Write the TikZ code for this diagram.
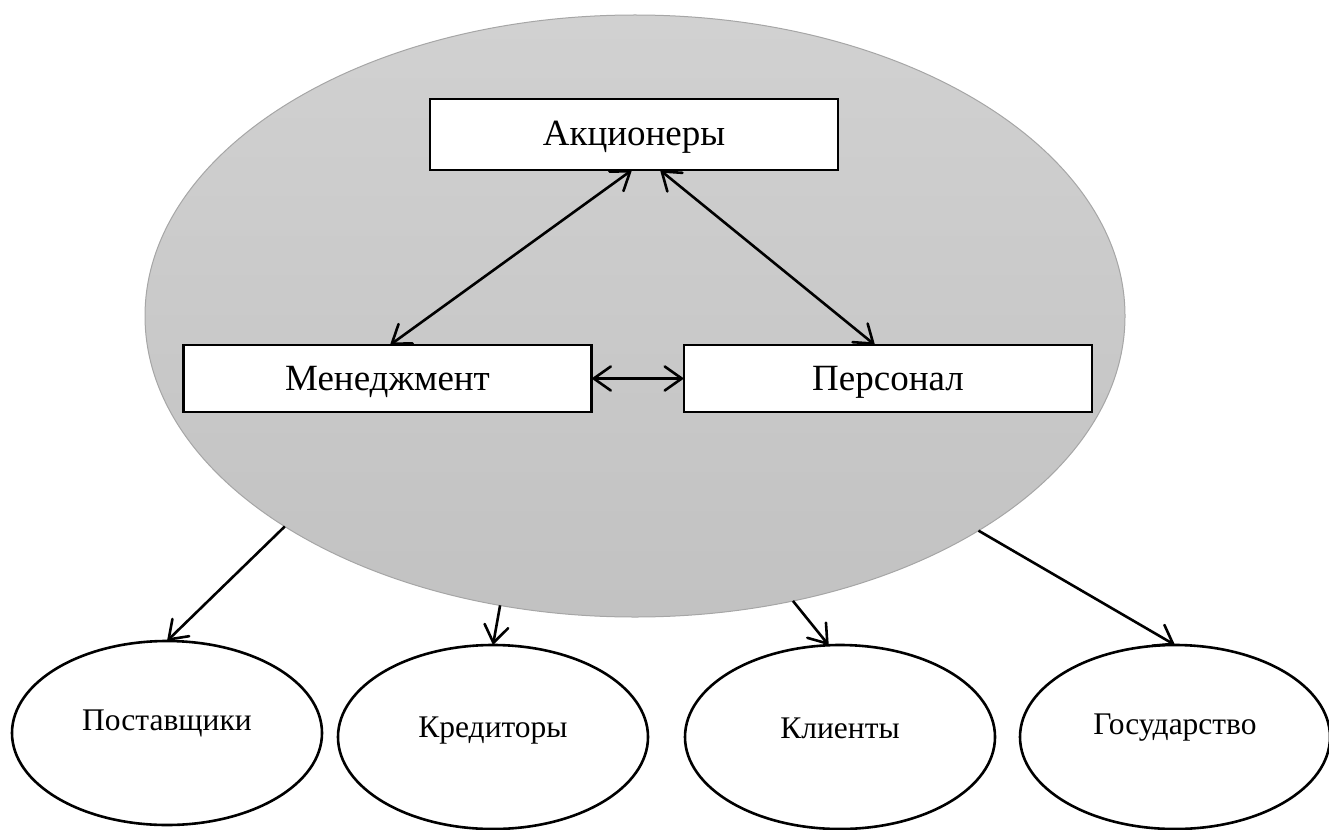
\documentclass[tikz,border=0pt]{standalone}
\usepackage{fontspec}
\setmainfont{Liberation Serif}
\usetikzlibrary{shapes.geometric,arrows.meta}
\begin{document}
\begin{tikzpicture}[x=1pt,y=-1pt,
  bigell/.style={ellipse,draw=black!35,line width=1pt,top color=black!18,bottom color=black!24,
    minimum width=980pt,minimum height=602pt,inner sep=0pt,outer sep=0pt},
  rolebox/.style={rectangle,draw=black,line width=2.6pt,fill=white,minimum width=408pt,
    minimum height=68pt,inner sep=0pt,outer sep=0pt},
  rlabel/.style={font=\fontsize{37}{44}\selectfont,inner sep=0pt},
  partner/.style={ellipse,draw=black,line width=2.6pt,fill=white,minimum width=310pt,
    minimum height=184pt,inner sep=0pt,outer sep=0pt},
  plabel/.style={font=\fontsize{31.5}{38}\selectfont,inner sep=0pt},
  conn/.style={line width=2.6pt,draw=black},
  tip/.tip={Straight Barb[length=17pt,width=24pt,line cap=round]}
]
\useasboundingbox (0,0) rectangle (1329,829);
\node[bigell] (big) at (635,316) {};
\node[rolebox,minimum height=71pt] (ak) at (634,134.5) {};
\node[rolebox,minimum height=67pt] (men) at (387.5,378.5) {};
\node[rolebox,minimum height=67pt] (per) at (888,378.5) {};
\node[rlabel] (tak) at (634,137) {Акционеры};
\node[rlabel] (tmen) at (387.5,382) {Менеджмент};
\node[rlabel] (tper) at (888,382) {Персонал};

\node[partner] (pos) at (167,733) {};
\node[partner] (kre) at (493,737) {};
\node[partner] (kli) at (840,737) {};
\node[partner] (gos) at (1175,737) {};
\node[plabel] (tpos) at (167,723) {Поставщики};
\node[plabel] (tkre) at (493,731) {Кредиторы};
\node[plabel] (tkli) at (840,728) {Клиенты};
\node[plabel] (tgos) at (1175,728) {Государство};

\draw[conn,{tip}-{tip}] ([xshift=-2pt]ak.south) -- ([xshift=2.5pt]men.north);
\draw[conn,{tip}-{tip}] ([xshift=26pt]ak.south) -- ([xshift=-13pt]per.north);
\draw[conn,{tip}-{tip}] (men.east) -- (per.west);

\draw[conn,-{tip}] (big.211.5) -- (pos.north);
\draw[conn,-{tip}] (big.245.8) -- (kre.north);
\draw[conn,-{tip}] (big.299.9) -- (kli.97.5);
\draw[conn,-{tip}] (big.328.6) -- (gos.north);
\end{tikzpicture}
\end{document}
